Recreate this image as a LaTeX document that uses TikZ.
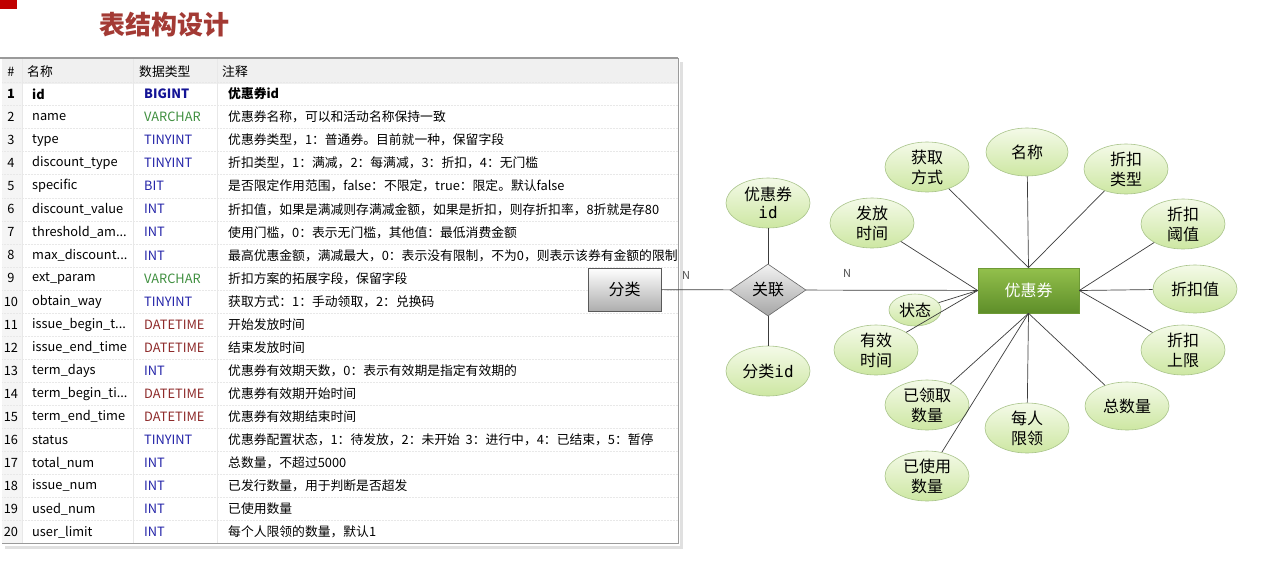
\documentclass[tikz,border=0pt]{standalone}
\usepackage{fontspec}
\setmainfont{Noto Sans CJK SC}
\newfontfamily\monof{DejaVu Sans Mono}
\usetikzlibrary{shapes.geometric}
\definecolor{titlered}{HTML}{A33A34}
\definecolor{cornerred}{HTML}{C00000}
\definecolor{tblue}{HTML}{2323A8}
\definecolor{tdblue}{HTML}{141496}
\definecolor{tgreen}{HTML}{3F8F3F}
\definecolor{tred}{HTML}{8E2A2A}
\definecolor{hdrbg}{HTML}{F0F0F0}
\definecolor{numbg}{HTML}{F5F5F5}
\definecolor{gridc}{HTML}{E8E8E8}
\definecolor{edgec}{HTML}{9A9A9A}
\definecolor{attrdraw}{HTML}{A9C48A}
\definecolor{attrtop}{HTML}{F4FAE8}
\definecolor{attrbot}{HTML}{CDE7A2}
\definecolor{ctop}{HTML}{93C04C}
\definecolor{cbot}{HTML}{5E8E29}
\definecolor{cdraw}{HTML}{6E9A36}
\definecolor{linec}{HTML}{3C3C3C}
\tikzset{
  tfont/.style={font=\fontsize{12.8}{14}\selectfont},
  numc/.style={tfont, inner sep=0pt, anchor=center},
  cell/.style={tfont, inner sep=0pt, anchor=west},
  attr/.style={ellipse, draw=attrdraw, line width=0.6pt, top color=attrtop, bottom color=attrbot,
    minimum width=84pt, minimum height=50pt, inner sep=0pt, align=center,
    font=\fontsize{16}{20}\selectfont},
  conn/.style={draw=linec, line width=0.7pt},
  nlabel/.style={font=\fontsize{11}{12}\selectfont, text=black!70},
}
\newcommand\trow[5]{%
  \pgfmathsetmacro\ry{94+(#1-1)*23.05}%
  \node[numc] (num#1) at (11,\ry) {#1};
  \node[cell] (f#1) at (32,\ry) {#2};
  \node[cell, text=#4] (t#1) at (144,\ry) {#3};
  \node[cell] (c#1) at (228,\ry) {#5};
}
\begin{document}
\begin{tikzpicture}[x=1pt,y=-1pt]
\useasboundingbox[fill=white] (0,0) rectangle (1280,571);
% corner mark and title
\fill[cornerred] (0,0) rectangle (17,9);
\node[font=\fontsize{26}{30}\selectfont\bfseries, text=titlered] (title) at (164,25) {表结构设计};
% table frame
\fill[black!12] (5,546) rectangle (682,549);
\fill[black!12] (680,62) rectangle (683,549);
\fill[numbg] (2,84) rectangle (22,543);
\fill[hdrbg] (2,59) rectangle (678,84);
\draw[edgec, line width=1.4pt] (0,58) -- (678,58);
\draw[edgec, line width=0.8pt] (678,58) -- (678,543) -- (2,543);
\foreach \xx in {22,133,217} \draw[gridc, line width=0.5pt] (\xx,59) -- (\xx,543);
\foreach \i in {0,...,19} {
  \pgfmathsetmacro\ly{82.5+\i*23.05}
  \draw[gridc, densely dotted, line width=0.5pt] (2,\ly) -- (678,\ly);
}
% header
\node[numc] (h0) at (11,72) {\#};
\node[cell] (h1) at (27,72) {名称};
\node[cell] (h2) at (139,72) {数据类型};
\node[cell] (h3) at (222,72) {注释};
% rows
\node[numc, font=\fontsize{12.8}{14}\selectfont\bfseries] (num1) at (11,94) {1};
\node[cell] (f1) at (32,94) {\textbf{id}};
\node[cell, text=tdblue] (t1) at (144,94) {\textbf{BIGINT}};
\node[cell] (c1) at (228,94) {\textbf{优惠券id}};
\trow{2}{name}{VARCHAR}{tgreen}{优惠券名称，可以和活动名称保持一致}
\trow{3}{type}{TINYINT}{tblue}{优惠券类型，1：普通券。目前就一种，保留字段}
\trow{4}{discount\_type}{TINYINT}{tblue}{折扣类型，1：满减，2：每满减，3：折扣，4：无门槛}
\trow{5}{specific}{BIT}{tblue}{是否限定作用范围，false：不限定，true：限定。默认false}
\trow{6}{discount\_value}{INT}{tblue}{折扣值，如果是满减则存满减金额，如果是折扣，则存折扣率，8折就是存80}
\trow{7}{threshold\_am...}{INT}{tblue}{使用门槛，0：表示无门槛，其他值：最低消费金额}
\trow{8}{max\_discount...}{INT}{tblue}{最高优惠金额，满减最大，0：表示没有限制，不为0，则表示该券有金额的限制}
\trow{9}{ext\_param}{VARCHAR}{tgreen}{折扣方案的拓展字段，保留字段}
\trow{10}{obtain\_way}{TINYINT}{tblue}{获取方式：1：手动领取，2：兑换码}
\trow{11}{issue\_begin\_t...}{DATETIME}{tred}{开始发放时间}
\trow{12}{issue\_end\_time}{DATETIME}{tred}{结束发放时间}
\trow{13}{term\_days}{INT}{tblue}{优惠券有效期天数，0：表示有效期是指定有效期的}
\trow{14}{term\_begin\_ti...}{DATETIME}{tred}{优惠券有效期开始时间}
\trow{15}{term\_end\_time}{DATETIME}{tred}{优惠券有效期结束时间}
\trow{16}{status}{TINYINT}{tblue}{优惠券配置状态，1：待发放，2：未开始\ \ 3：进行中，4：已结束，5：暂停}
\trow{17}{total\_num}{INT}{tblue}{总数量，不超过5000}
\trow{18}{issue\_num}{INT}{tblue}{已发行数量，用于判断是否超发}
\trow{19}{used\_num}{INT}{tblue}{已使用数量}
\trow{20}{user\_limit}{INT}{tblue}{每个人限领的数量，默认1}
% ER diagram
\node[draw=black!65, line width=0.7pt, top color=white, bottom color=black!32, minimum width=73pt, minimum height=43pt,
  inner sep=0pt, font=\fontsize{16}{20}\selectfont] (fl) at (624.5,289.5) {分类};
\node[diamond, draw=black!60, line width=0.6pt, top color=black!5, bottom color=black!35, minimum width=76pt, minimum height=52pt,
  inner sep=0pt, font=\fontsize{16}{20}\selectfont] (gl) at (768,290) {关联};
\node[draw=cdraw, line width=0.6pt, top color=ctop, bottom color=cbot, minimum width=101pt, minimum height=45pt,
  inner sep=0pt, text=white, font=\fontsize{16}{20}\selectfont] (yhq) at (1028.5,290.5) {优惠券};
\node[attr] (yid) at (768,203) {优惠券\\[-2pt]{\monof id}};
\node[attr] (fid) at (768,371) {分类{\monof id}};
\node[attr] (hq) at (927,167) {获取\\方式};
\node[attr, minimum width=82pt, minimum height=48pt] (mc) at (1027,152) {名称};
\node[attr] (zklx) at (1126,169) {折扣\\类型};
\node[attr] (zkfz) at (1183,224) {折扣\\阈值};
\node[attr, minimum height=48pt] (zkz) at (1195,289) {折扣值};
\node[attr] (zksx) at (1183,350) {折扣\\上限};
\node[attr, minimum height=48pt] (zsl) at (1127,406) {总数量};
\node[attr] (mrxl) at (1027,428) {每人\\限领};
\node[attr] (ysy) at (927,476) {已使用\\数量};
\node[attr] (ylq) at (927,405) {已领取\\数量};
\node[attr] (yxsj) at (876,350) {有效\\时间};
\node[attr, minimum width=52pt, minimum height=32pt] (zt) at (915,310) {状态};
\node[attr] (ffsj) at (872,223) {发放\\时间};
\draw[conn] (fl) -- (gl);
\draw[conn] (gl) -- (yhq);
\draw[conn] (yid) -- (gl);
\draw[conn] (fid) -- (gl);
\node[nlabel] (nleft) at (686,275) {N};
\node[nlabel] (nright) at (847,273) {N};
\foreach \a in {hq,mc,zklx} \draw[conn] (\a) -- (yhq.north);
\foreach \a in {ffsj,zt,yxsj} \draw[conn] (\a) -- (yhq.west);
\foreach \a in {zkfz,zkz,zksx} \draw[conn] (\a) -- (yhq.east);
\foreach \a in {ylq,mrxl,ysy,zsl} \draw[conn] (\a) -- (yhq.south);
\end{tikzpicture}
\end{document}
